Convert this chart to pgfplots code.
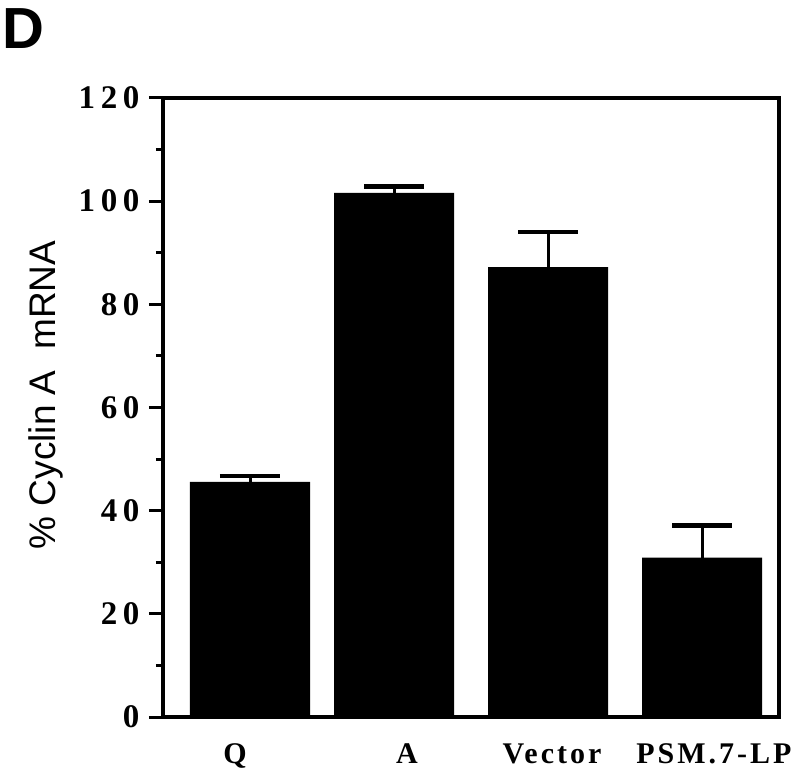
\documentclass[border=0pt]{standalone}
\usepackage{fontspec}
\setmainfont{Liberation Serif}
\newfontfamily\sanslab{Liberation Sans}
\newfontfamily\ytickfont[LetterSpace=17]{Liberation Serif}
\newfontfamily\xtickfont[LetterSpace=10]{Liberation Serif}
\usepackage{pgfplots}
\pgfplotsset{compat=1.18}
\begin{document}
\begin{tikzpicture}
\begin{axis}[
  at={(0,0)}, anchor=south west,
  scale only axis, width=616pt, height=619pt,
  xmin=0, xmax=616, ymin=0, ymax=120,
  axis line style={line width=3.5pt},
  ytick={0,20,40,60,80,100,120},
  yticklabels={0,20,40,60,80,100,120},
  minor y tick num=1,
  ytick pos=left, tick align=outside,
  major tick length=14pt, minor tick length=7pt,
  every tick/.style={line width=3pt, black},
  xtick={72,244,389,551},
  xticklabels={Q,A,Vector,PSM.7-LP},
  x tick style={draw=none},
  xtick pos=bottom,
  yticklabel style={font=\fontsize{33}{33}\selectfont\ytickfont\bfseries, anchor=east, xshift=-6pt},
  xticklabel style={font=\fontsize{30}{30}\selectfont\xtickfont\bfseries, anchor=north, yshift=-9pt},
  clip=false,
]
\addplot[ybar, bar width=120pt, fill=black, draw=none,
  error bars/.cd, y dir=plus, y explicit,
  error bar style={line width=3pt, black},
  error mark options={rotate=90, mark size=30pt, line width=4.5pt, black}]
  coordinates {
  (87,45.6) +- (0,1.1)
  (231,101.6) +- (0,1.2)
  (385,87.2) +- (0,6.8)
  (539,30.9) +- (0,6.2)
  };
\end{axis}
\node[anchor=north west, inner sep=0pt, font=\fontsize{58}{58}\selectfont\sanslab\bfseries] at (-161pt,709pt) {D};
\node[rotate=90, inner sep=0pt, font=\fontsize{37}{37}\selectfont\sanslab] at (-117pt,322pt) {\% Cyclin A\ \ mRNA};
\path[use as bounding box] (-163pt,-51pt) rectangle (637pt,717pt);
\end{tikzpicture}
\end{document}
